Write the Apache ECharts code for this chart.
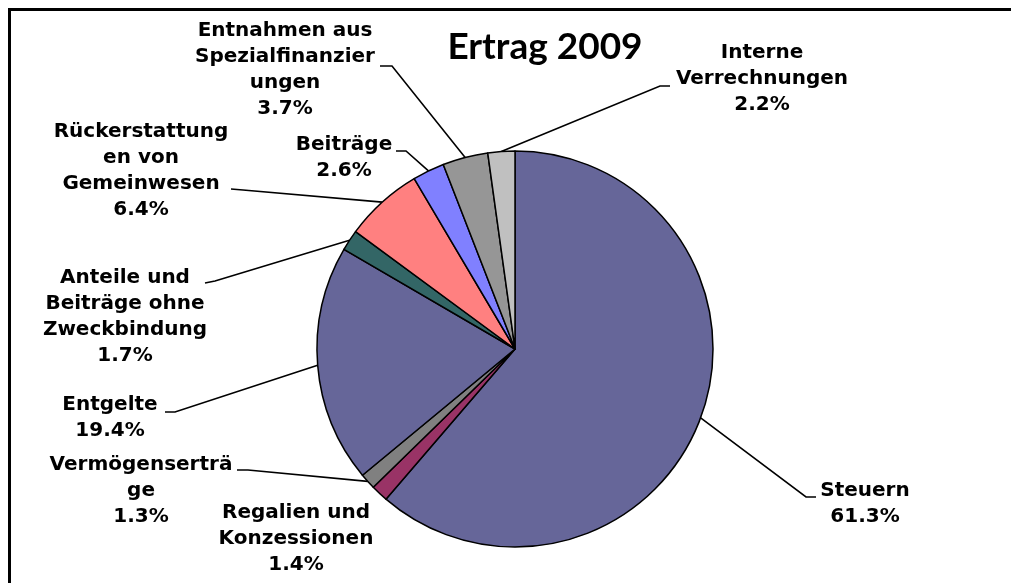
<!DOCTYPE html>
<html>
<head>
<meta charset="utf-8">
<script src="https://cdn.jsdelivr.net/npm/echarts@6/dist/echarts.min.js"></script>
<style>
  html, body { margin: 0; padding: 0; background: #fff; }
  #frame {
    position: absolute; left: 8px; top: 8px; width: 1011px; height: 583px;
    border-left: 3px solid #000; border-top: 3px solid #000;
  }
  #ertrag { position: absolute; left: 0; top: 0; width: 1011px; height: 583px; }
</style>
</head>
<body>
<div id="frame"></div>
<div id="ertrag"></div>
<script>
  // Kategorien (Reihenfolge im Uhrzeigersinn ab 12 Uhr)
  let categories = ['Steuern', 'Regalien und Konzessionen', 'Vermögenserträge', 'Entgelte',
    'Anteile und Beiträge ohne Zweckbindung', 'Rückerstattungen von Gemeinwesen', 'Beiträge',
    'Entnahmen aus Spezialfinanzierungen', 'Interne Verrechnungen'];
  // Beschriftung mit den Umbrüchen wie im Original
  let labelTexts = ['Steuern', 'Regalien und\nKonzessionen', 'Vermögenserträ\nge', 'Entgelte',
    'Anteile und\nBeiträge ohne\nZweckbindung', 'Rückerstattung\nen von\nGemeinwesen', 'Beiträge',
    'Entnahmen aus\nSpezialfinanzier\nungen', 'Interne\nVerrechnungen'];
  // Anteile in Prozent
  let shares = [61.3, 1.4, 1.3, 19.4, 1.7, 6.4, 2.6, 3.7, 2.2];

  let colors = ['#666699', '#993366', '#808080', '#666699', '#336666', '#FF8080', '#8080FF', '#969696', '#C0C0C0'];
  // Label-Positionen (Mitte des Textblocks)
  let labelPos = [[865, 504], [296, 539], [141, 491], [110, 418], [125, 317], [141, 171], [344, 158], [285, 70], [762, 79]];
  // Endstueck der Fuehrungslinie am Text (Knick, Ende); null = keine Linie
  let guideEnds = [
    [[806, 497], [816, 497]],
    null,
    [[248, 470], [237, 470]],
    [[175, 412], [165, 412]],
    [[215, 281], [205, 283]],
    [[243, 190], [231, 189]],
    [[406, 151], [396, 151]],
    [[392, 66], [380, 66]],
    [[660, 86], [670, 86]]
  ];

  let myChart = echarts.init(document.getElementById('ertrag'));
  myChart.setOption({
    animation: false,
    title: {
      text: 'Ertrag 2009',
      left: 540,
      top: 24,
      textAlign: 'center',
      textStyle: { fontFamily: 'Lato', fontWeight: 'bold', fontSize: 37, color: '#000' }
    },
    series: [{
      type: 'pie',
      center: [515, 349],
      radius: 198,
      startAngle: 90,
      clockwise: true,
      avoidLabelOverlap: false,
      data: categories.map((name, i) => ({
        name: name,
        value: shares[i],
        itemStyle: { color: colors[i] },
        labelLine: { show: guideEnds[i] !== null }
      })),
      itemStyle: { borderColor: '#000', borderWidth: 1.5 },
      label: {
        show: true,
        formatter: p => labelTexts[p.dataIndex] + '\n' + p.value.toFixed(1) + '%',
        fontFamily: 'DejaVu Sans',
        fontWeight: 'bold',
        fontSize: 20,
        lineHeight: 26,
        color: '#000',
        align: 'center'
      },
      labelLine: {
        show: true,
        length: 20,
        length2: 10,
        lineStyle: { color: '#000', width: 1.6 }
      },
      labelLayout: p => {
        let res = {
          x: labelPos[p.dataIndex][0],
          y: labelPos[p.dataIndex][1],
          align: 'center',
          verticalAlign: 'middle'
        };
        let g = guideEnds[p.dataIndex];
        if (g && p.labelLinePoints) {
          res.labelLinePoints = [p.labelLinePoints[0], g[0], g[1]];
        }
        return res;
      }
    }]
  });
</script>
</body>
</html>
